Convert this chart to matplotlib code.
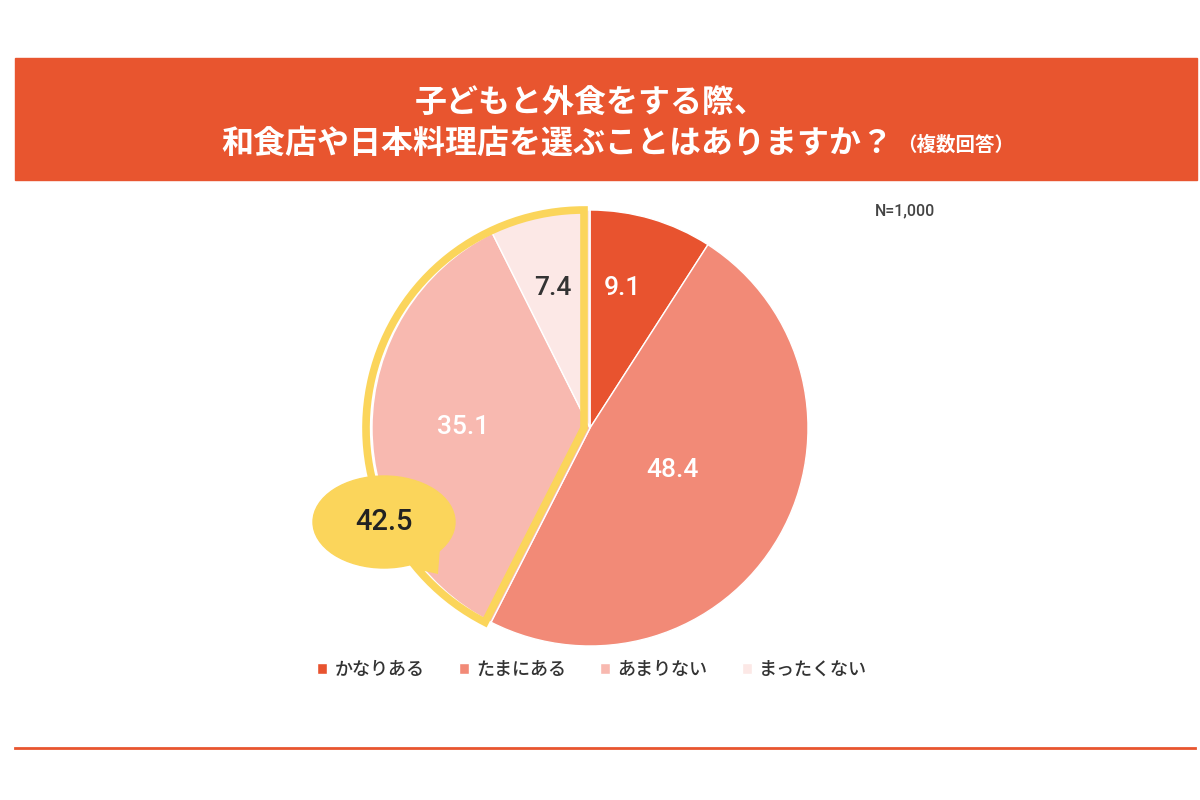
import matplotlib
matplotlib.use("Agg")
import matplotlib.pyplot as plt
from matplotlib.patches import Rectangle, Wedge, Ellipse, Polygon

plt.rcParams['font.family'] = ['Noto Sans CJK JP', 'DejaVu Sans']

# ---- data ----
categories = ["かなりある", "たまにある", "あまりない", "まったくない"]
values = [9.1, 48.4, 35.1, 7.4]
colors = ["#E8532F", "#F28A77", "#F8B9B0", "#FCE8E6"]
label_colors = ["white", "white", "white", "#333333"]
highlight_value = "42.5"
title_line1 = "子どもと外食をする際、"
title_line2 = "和食店や日本料理店を選ぶことはありますか？"
title_note = "（複数回答）"
n_label = "N=1,000"

W, H = 1200, 800
fig = plt.figure(figsize=(12, 8), dpi=100)
ax = fig.add_axes([0, 0, 1, 1])
ax.set_xlim(0, W)
ax.set_ylim(0, H)
ax.set_aspect('equal')
ax.axis('off')

def Y(y):  # image y -> data y
    return H - y

orange = "#E8552F"
yellow = "#FBD55B"

# title banner
ax.add_patch(Rectangle((15, Y(180)), 1182, 122, color=orange, zorder=1))
ax.text(591, Y(104), title_line1, color="white", fontsize=23, fontweight='bold',
        ha='center', va='center', zorder=2)
ax.text(893, Y(144), title_line2, color="white", fontsize=23, fontweight='bold',
        ha='right', va='center', zorder=2)
ax.text(897, Y(145), title_note, color="white", fontsize=14, fontweight='bold',
        ha='left', va='center', zorder=2)

# pie
cx, cy, r = 590, Y(428), 218
wedges, _ = ax.pie(values, colors=colors, startangle=90, counterclock=False,
                   center=(cx, cy), radius=r, frame=True,
                   wedgeprops=dict(edgecolor='white', linewidth=1))
for w in wedges:
    w.set_zorder(3)
ax.set_xlim(0, W)
ax.set_ylim(0, H)
ax.axis('off')

# labels
label_pos = [(622, 288), (672, 470), (463, 427), (553, 288)]
for v, (x, y), c in zip(values, label_pos, label_colors):
    ax.text(x, Y(y), f"{v:.1f}", color=c, fontsize=19, ha='center', va='center',
            fontweight='medium', family=['Roboto', 'DejaVu Sans'], zorder=6)

# highlight outline for the last two wedges (from 90° counter-clockwise)
end_angle = 90 - (values[0] + values[1]) * 3.6 + 360
ax.add_patch(Wedge((cx - 6, cy), r, 90, end_angle,
                   fill=False, edgecolor=yellow, linewidth=5.5, zorder=4,
                   joinstyle='miter'))

# speech bubble
ax.add_patch(Polygon([(405, Y(562)), (440, Y(548)), (438, Y(574)), (420, Y(570))],
                     closed=True, color=yellow, zorder=4.5, linewidth=0))
ax.add_patch(Ellipse((384, Y(522)), 142, 92, color=yellow, zorder=5))
ax.text(384, Y(522), highlight_value, color="#222222", fontsize=21, ha='center',
        va='center', fontweight='medium', family=['Roboto', 'DejaVu Sans'], zorder=6)

# N label
ax.text(905, Y(211), n_label, color="#444444", fontsize=11.5, ha='center',
        va='center', fontweight='medium', family=['Roboto', 'DejaVu Sans'])

# legend
leg = ax.legend(wedges, categories, loc='center', bbox_to_anchor=(592 / W, 1 - 670 / H),
                ncol=4, frameon=False, fontsize=13, handlelength=0.55,
                handleheight=0.55, handletextpad=0.4, columnspacing=1.9,
                prop={'weight': 'medium', 'size': 13})
for t in leg.get_texts():
    t.set_color("#333333")

# bottom line
ax.plot([15, 1195], [Y(748), Y(748)], color=orange, linewidth=2, zorder=2)

fig.savefig("out.png", dpi=100, facecolor="white")
